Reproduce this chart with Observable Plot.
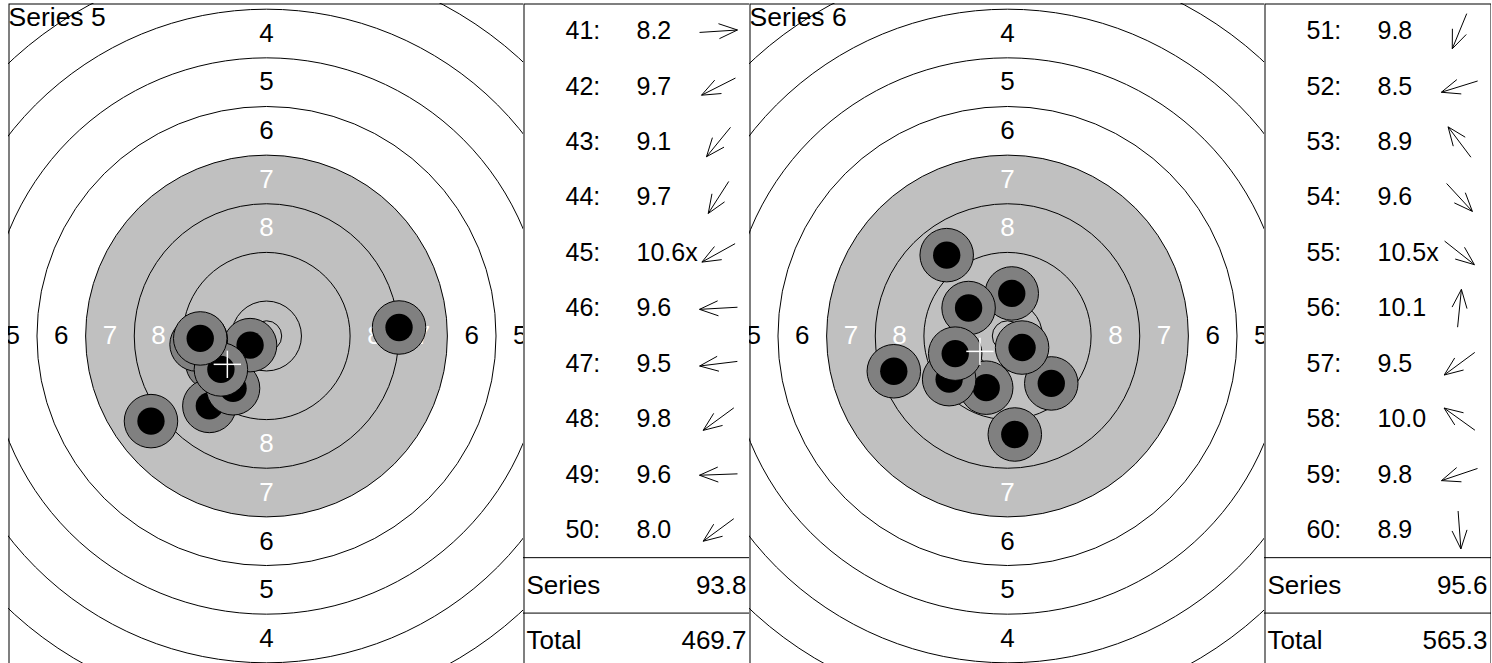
<!DOCTYPE html>
<html>
<head>
<meta charset="utf-8">
<script src="https://cdn.jsdelivr.net/npm/d3@7"></script>
<script src="https://cdn.jsdelivr.net/npm/@observablehq/plot@0.6"></script>
<style>
html, body { margin: 0; padding: 0; background: #fff; }
#chart { position: absolute; left: 8px; top: 3px; display: flex; align-items: flex-start; }
#chart svg { flex: none; display: block; }
#chart svg + svg { margin-left: -1px; }
</style>
</head>
<body>
<div id="chart"></div>
<script>
// ---------- data ----------
const seriesNames = ["Series 5", "Series 6"];

const shotNumbers5 = [41, 42, 43, 44, 45, 46, 47, 48, 49, 50];
const shotScores5 = ["8.2", "9.7", "9.1", "9.7", "10.6x", "9.6", "9.5", "9.8", "9.6", "8.0"];
const shotX5 = [21.8, -8.9, -9.4, -5.5, -2.7, -10.8, -11.5, -7.5, -10.9, -19.0]; // mm, right of centre
const shotY5 = [1.4, -4.5, -11.5, -8.6, -1.5, -0.6, -1.4, -5.5, -0.4, -14.0];    // mm, above centre

const shotNumbers6 = [51, 52, 53, 54, 55, 56, 57, 58, 59, 60];
const shotScores6 = ["9.8", "8.5", "8.9", "9.6", "10.5x", "10.1", "9.5", "10.0", "9.8", "8.9"];
const shotX6 = [-3.5, -18.7, -10.0, 7.2, 2.4, 0.7, -9.6, -6.4, -8.6, 1.2];
const shotY6 = [-8.5, -5.8, 13.3, -7.8, -1.9, 7.0, -7.1, 4.6, -2.9, -16.2];

const seriesTotals = ["93.8", "95.6"];
const runningTotals = ["469.7", "565.3"];

// target geometry (10 m air pistol target, mm)
const ringScores = [1, 2, 3, 4, 5, 6, 7, 8, 9, 10];
const ringRadiiMm = [77.75, 69.75, 61.75, 53.75, 45.75, 37.75, 29.75, 21.75, 13.75, 5.75];
const innerTenMm = 2.5;
const blackFromScore = 7;
const labelScores = [1, 2, 3, 4, 5, 6, 7, 8];
const pelletMm = 2.25;
const haloMm = 4.4;

// ---------- layout / style ----------
const FONT = "'Liberation Sans', Arial, Helvetica, sans-serif";
const PX_PER_MM = 6.08;
const TARGET_W = 516, TAB_W = 227, H = 665;
const NUM_DX = 42, SCORE_DX = 113, ARROW_CX = 195, ARROW_HALF = 19, WING_LEN = 20, WING_ANGLE = 22 * Math.PI / 180;
const LABEL_DX = 3, VALUE_DX = 4;

function target(name, xs, ys) {
  const xHalf = TARGET_W / 2 / PX_PER_MM, yHalf = H / 2 / PX_PER_MM;
  const shots = xs.map((x, i) => ({x, y: ys[i]}));
  const mx = d3.mean(xs), my = d3.mean(ys);
  const cross = [
    {x1: mx - pelletMm, y1: my, x2: mx + pelletMm, y2: my},
    {x1: mx, y1: my - pelletMm, x2: mx, y2: my + pelletMm}
  ];
  const rings = ringRadiiMm.concat([innerTenMm]);
  const blackR = ringRadiiMm[ringScores.indexOf(blackFromScore)];
  const labels = labelScores.flatMap(k => {
    const i = ringScores.indexOf(k);
    const mid = (ringRadiiMm[i] + ringRadiiMm[i + 1]) / 2;
    return [[0, mid], [0, -mid], [-mid, 0], [mid, 0]].map(([x, y]) => ({x, y, k}));
  });
  const origin = () => 0;
  return Plot.plot({
    width: TARGET_W, height: H, margin: 0,
    style: {fontFamily: FONT, background: "white"},
    x: {domain: [-xHalf, xHalf], axis: null},
    y: {domain: [-yHalf, yHalf], axis: null},
    r: {type: "linear", domain: [0, 1], range: [0, PX_PER_MM]},
    marks: [
      Plot.dot([blackR], {x: origin, y: origin, r: d => d, fill: "#c0c0c0", stroke: "none", clip: true}),
      Plot.dot(rings, {x: origin, y: origin, r: d => d, fill: "none", stroke: "black", strokeWidth: 1, clip: true}),
      Plot.text(labels.filter(d => d.k < blackFromScore), {x: "x", y: "y", text: d => String(d.k), fill: "black", fontSize: 26, clip: true}),
      Plot.text(labels.filter(d => d.k >= blackFromScore), {x: "x", y: "y", text: d => String(d.k), fill: "white", fontSize: 26, clip: true}),
      ...shots.flatMap(s => [
        Plot.dot([s], {x: "x", y: "y", r: () => haloMm, fill: "#808080", stroke: "black", strokeWidth: 1, clip: true}),
        Plot.dot([s], {x: "x", y: "y", r: () => pelletMm, fill: "black", stroke: "none", clip: true})
      ]),
      Plot.link(cross, {x1: "x1", y1: "y1", x2: "x2", y2: "y2", stroke: "white", strokeWidth: 1.5}),
      Plot.text([name], {frameAnchor: "top-left", text: d => d, textAnchor: "start", lineAnchor: "top", fontSize: 26.5, dx: 0, dy: 4}),
      Plot.frame({stroke: "black", strokeWidth: 1, inset: 0.5})
    ]
  });
}

function table(numbers, scores, xs, ys, seriesTotal, runningTotal) {
  const nRows = numbers.length + 2;
  const rowH = H / nRows;
  const u = px => px / rowH;
  const rows = numbers.map((n, i) => ({row: i + 0.5, num: `${n}:`, score: scores[i]}));
  const summary = [
    {row: numbers.length + 0.5, label: "Series", value: seriesTotal},
    {row: numbers.length + 1.5, label: "Total", value: runningTotal}
  ];
  const segs = xs.flatMap((x, i) => {
    const y = ys[i], d = Math.hypot(x, y);
    const ux = x / d, uy = -y / d;
    const cx = u(ARROW_CX), cy = i + 0.5, h = u(ARROW_HALF), wl = u(WING_LEN);
    const tip = [cx + h * ux, cy + h * uy], tail = [cx - h * ux, cy - h * uy];
    const back = Math.atan2(-uy, -ux);
    const out = [{x1: tail[0], y1: tail[1], x2: tip[0], y2: tip[1]}];
    for (const s of [-1, 1]) {
      const a = back + s * WING_ANGLE;
      out.push({x1: tip[0], y1: tip[1], x2: tip[0] + wl * Math.cos(a), y2: tip[1] + wl * Math.sin(a)});
    }
    return out;
  });
  return Plot.plot({
    width: TAB_W, height: H, margin: 0,
    style: {fontFamily: FONT, background: "white"},
    x: {domain: [0, u(TAB_W)], range: [0, TAB_W], axis: null},
    y: {domain: [0, nRows], range: [0, H], axis: null},
    marks: [
      Plot.ruleY([numbers.length, numbers.length + 1], {stroke: "black", strokeWidth: 1}),
      Plot.text(rows, {frameAnchor: "left", y: "row", text: "num", textAnchor: "start", dx: NUM_DX, fontSize: 25}),
      Plot.text(rows, {frameAnchor: "left", y: "row", text: "score", textAnchor: "start", dx: SCORE_DX, fontSize: 25}),
      Plot.link(segs, {x1: "x1", y1: "y1", x2: "x2", y2: "y2", stroke: "black", strokeWidth: 1}),
      Plot.text(summary, {frameAnchor: "left", y: "row", text: "label", textAnchor: "start", dx: LABEL_DX, fontSize: 26}),
      Plot.text(summary, {frameAnchor: "right", y: "row", text: "value", textAnchor: "end", dx: -VALUE_DX, fontSize: 26}),
      Plot.frame({stroke: "black", strokeWidth: 1, inset: 0.5})
    ]
  });
}

const chart = document.getElementById("chart");
chart.append(
  target(seriesNames[0], shotX5, shotY5),
  table(shotNumbers5, shotScores5, shotX5, shotY5, seriesTotals[0], runningTotals[0]),
  target(seriesNames[1], shotX6, shotY6),
  table(shotNumbers6, shotScores6, shotX6, shotY6, seriesTotals[1], runningTotals[1])
);
</script>
</body>
</html>
